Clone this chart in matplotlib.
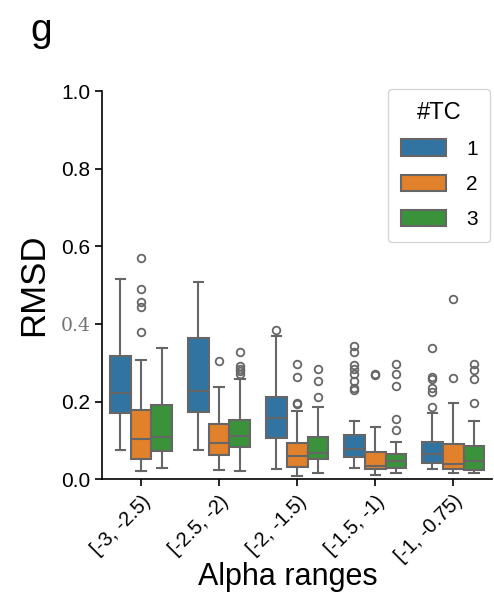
import numpy as np
import matplotlib.pyplot as plt
from matplotlib.patches import Patch

plt.rcParams['font.family'] = ['Liberation Sans', 'DejaVu Sans']

groups = ['[-3, -2.5)', '[-2.5, -2)', '[-2, -1.5)', '[-1.5, -1)', '[-1, -0.75)']
hues = ['1', '2', '3']
colors = ['#3274a1', '#e1812c', '#3a923a']

# box stats per hue, one value per alpha range
lo = {'1': [0.076, 0.076, 0.025, 0.028, 0.025],
      '2': [0.021, 0.023, 0.009, 0.010, 0.015],
      '3': [0.028, 0.021, 0.015, 0.015, 0.015]}
q1 = {'1': [0.171, 0.173, 0.106, 0.058, 0.041],
      '2': [0.052, 0.062, 0.032, 0.025, 0.025],
      '3': [0.073, 0.082, 0.052, 0.028, 0.024]}
med = {'1': [0.222, 0.228, 0.158, 0.078, 0.064],
       '2': [0.104, 0.094, 0.060, 0.034, 0.040],
       '3': [0.109, 0.112, 0.068, 0.047, 0.046]}
q3 = {'1': [0.317, 0.363, 0.212, 0.113, 0.097],
      '2': [0.178, 0.142, 0.092, 0.070, 0.091],
      '3': [0.192, 0.152, 0.108, 0.065, 0.085]}
hi = {'1': [0.515, 0.509, 0.370, 0.151, 0.170],
      '2': [0.307, 0.237, 0.176, 0.134, 0.196],
      '3': [0.337, 0.258, 0.186, 0.097, 0.150]}
fliers = {'1': [[], [], [0.384],
                [0.344, 0.328, 0.294, 0.285, 0.271, 0.253, 0.234, 0.229],
                [0.337, 0.263, 0.258, 0.234, 0.225, 0.185]],
          '2': [[0.570, 0.491, 0.457, 0.443, 0.380], [0.305],
                [0.297, 0.263, 0.196, 0.193], [0.271, 0.268], [0.464, 0.260]],
          '3': [[], [0.327, 0.292, 0.284, 0.278, 0.272],
                [0.284, 0.254, 0.211],
                [0.296, 0.271, 0.240, 0.154, 0.128],
                [0.298, 0.281, 0.258, 0.197]]}

fig = plt.figure(figsize=(4.94, 5.96), dpi=100)
ax = fig.add_axes([0.2065, 0.196, 0.79, 0.651])

w = 0.8 / 3
lc = '0.4'
for j, h in enumerate(hues):
    stats = []
    for i in range(len(groups)):
        stats.append(dict(whislo=lo[h][i], q1=q1[h][i], med=med[h][i],
                          q3=q3[h][i], whishi=hi[h][i], fliers=fliers[h][i]))
    pos = np.arange(len(groups)) + (j - 1) * w
    ax.bxp(stats, positions=pos, widths=w, capwidths=w * 0.45, patch_artist=True,
           manage_ticks=False,
           boxprops=dict(facecolor=colors[j], edgecolor=lc, linewidth=1.5),
           medianprops=dict(color=lc, linewidth=1.5),
           whiskerprops=dict(color=lc, linewidth=1.5),
           capprops=dict(color=lc, linewidth=1.5),
           flierprops=dict(marker='o', markerfacecolor='none', markeredgecolor=lc,
                           markersize=5.5, markeredgewidth=1.3))

ax.set_xlim(-0.5, len(groups) - 0.5)
ax.set_ylim(0, 1.0)
ax.set_xticks(range(len(groups)))
ax.set_xticklabels(groups, rotation=45, ha='right', rotation_mode='anchor', fontsize=14.5)
ax.set_yticks([0, 0.2, 0.4, 0.6, 0.8, 1.0])
ax.set_yticklabels(['0.0', '0.2', '0.4', '0.6', '0.8', '1.0'], fontsize=15)
for t in ax.get_yticklabels():
    if t.get_text() == '0.4':
        t.set_fontfamily('DejaVu Serif')
        t.set_color('0.45')
        t.set_fontsize(13.5)
ax.tick_params(length=5, width=1.2)
ax.tick_params(axis='x', pad=4)
ax.spines['top'].set_visible(False)
ax.spines['right'].set_visible(False)
ax.spines['left'].set_linewidth(1.2)
ax.spines['bottom'].set_linewidth(1.2)

ax.set_xlabel('Alpha ranges', fontsize=22)
ax.xaxis.set_label_coords(0.475, -0.213)
ax.set_ylabel('RMSD', fontsize=25, labelpad=7)

handles = [Patch(facecolor=c, edgecolor=lc, linewidth=1.5) for c in colors]
leg = ax.legend(handles, hues, title='#TC', loc='upper right', bbox_to_anchor=(0.995, 1.005),
                borderaxespad=0, fontsize=15, title_fontsize=17, handlelength=2.2,
                handleheight=0.85, handletextpad=0.95, labelspacing=0.75, borderpad=0.6,
                frameon=True)

fig.text(0.062, 0.978, 'g', fontsize=28, va='top', ha='left')

fig.savefig('out.png', dpi=100)
